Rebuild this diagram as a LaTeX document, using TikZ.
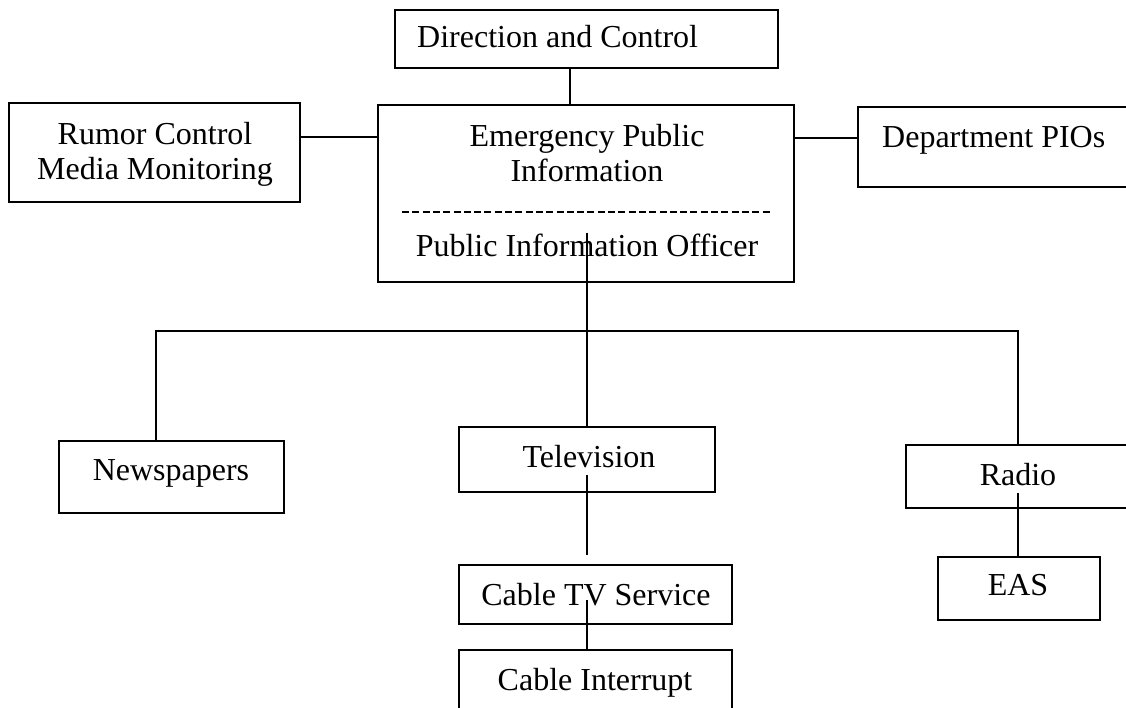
\documentclass[tikz,border=0pt]{standalone}
\usepackage{fontspec}
\setmainfont{Liberation Serif}
\begin{document}
\begin{tikzpicture}[x=1pt,y=-1pt,
  box/.style={draw, line width=1.6pt, inner sep=0pt},
  lbl/.style={anchor=base, inner sep=0pt, font=\fontsize{32}{35}\selectfont},
  link/.style={line width=1.6pt}]
\useasboundingbox (0,0) rectangle (1126,708);
\clip (0,0) rectangle (1126,708);
\fill[white] (0,0) rectangle (1126,708);
% boxes
\node[box, minimum width=383pt, minimum height=58pt] (dc) at (586.5,39) {};
\node[box, minimum width=416pt, minimum height=177pt] (epi) at (586,193.5) {};
\node[box, minimum width=291pt, minimum height=99pt] (rum) at (154.5,152.5) {};
\node[box, minimum width=292pt, minimum height=80pt] (dep) at (1004,147) {};
\node[box, minimum width=225pt, minimum height=72pt] (news) at (171.5,477) {};
\node[box, minimum width=256pt, minimum height=65pt] (tv) at (587,459.5) {};
\node[box, minimum width=224pt, minimum height=63pt] (radio) at (1018,476.5) {};
\node[box, minimum width=162pt, minimum height=63pt] (eas) at (1019,588.5) {};
\node[box, minimum width=273pt, minimum height=59pt] (ctv) at (595.5,594.5) {};
\node[box, minimum width=273pt, minimum height=80pt] (ci) at (595.5,690) {};
% texts
\node[lbl, anchor=base west] (tdc) at (417,48) {Direction and Control};
\node[lbl] (tepi1) at (587,147) {Emergency Public};
\node[lbl] (tepi2) at (587,182) {Information};
\node[lbl] (tepi3) at (587,257) {Public Information Officer};
\node[lbl] (trum1) at (155,145) {Rumor Control};
\node[lbl] (trum2) at (155,180) {Media Monitoring};
\node[lbl, anchor=base west] (tdep) at (882,148) {Department PIOs};
\node[lbl] (tnews) at (171,480) {Newspapers};
\node[lbl] (ttv) at (589,467) {Television};
\node[lbl] (tradio) at (1018,485) {Radio};
\node[lbl] (teas) at (1018,595) {EAS};
\node[lbl] (tctv) at (596,605) {Cable TV Service};
\node[lbl] (tci) at (595,690) {Cable Interrupt};
% dashed separator
\coordinate (dashL) at (402,212);
\coordinate (dashR) at (772,212);
\draw[line width=1.4pt, dash pattern=on 7pt off 3.3pt] (dashL) -- (dashR);
% connector helper coordinates
\coordinate (dcx) at (570,0);
\coordinate (yrum) at (0,137);
\coordinate (ydep) at (0,138);
\coordinate (epiS) at (587,233);
\coordinate (busL) at (156,331);
\coordinate (busR) at (1018,331);
\coordinate (tvS) at (587,475);
\coordinate (tvEnd) at (587,555);
\coordinate (ctvS) at (587,600);
\coordinate (radS) at (1018,493);
% connectors
\draw[link] (dc.south -| dcx) -- (epi.north -| dcx);
\draw[link] (rum.east |- yrum) -- (epi.west |- yrum);
\draw[link] (epi.east |- ydep) -- (dep.west |- ydep);
\draw[link] (epiS) -- (tv.north -| epiS);
\draw[link] (news.north -| busL) -- (busL) -- (busR) -- (radio.north -| busR);
\draw[link] (tvS) -- (tvEnd);
\draw[link] (ctvS) -- (ci.north -| ctvS);
\draw[link] (radS) -- (eas.north -| radS);
\end{tikzpicture}
\end{document}
